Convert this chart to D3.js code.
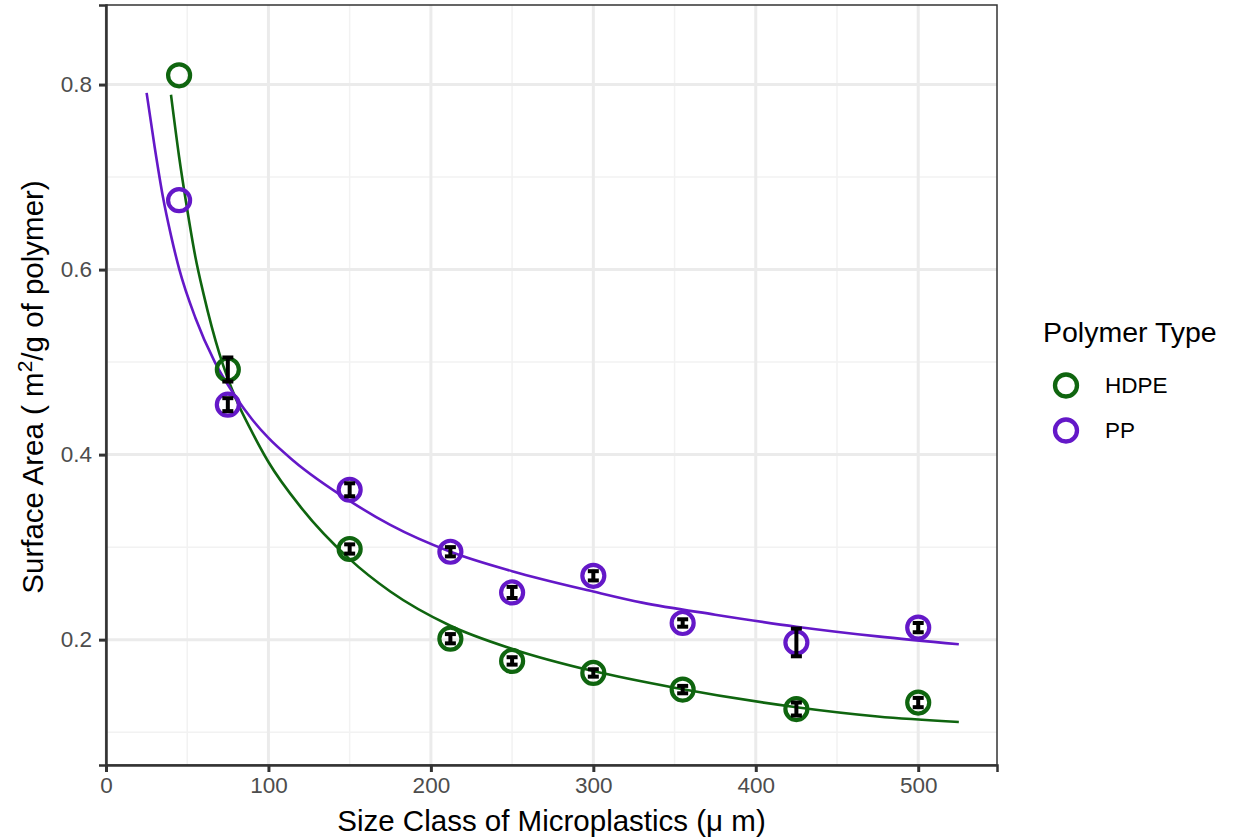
<!DOCTYPE html>
<html>
<head>
<meta charset="utf-8">
<script src="https://cdn.jsdelivr.net/npm/d3@7"></script>
<style>
  body { margin: 0; background: #fff; }
  text { font-family: "Liberation Sans", Arial, sans-serif; }
</style>
</head>
<body>
<svg width="1238" height="840"></svg>
<script>
// measured sizes (µm) and surface areas
const sizes = [45, 75, 150, 212, 250, 300, 355, 425, 500];
const hdpeArea = [0.810, 0.492, 0.298, 0.201, 0.177, 0.164, 0.146, 0.125, 0.132];
const hdpeErr = [0, 0.013, 0.005, 0.005, 0.004, 0.004, 0.004, 0.007, 0.005];
const ppArea = [0.675, 0.454, 0.362, 0.295, 0.251, 0.269, 0.218, 0.197, 0.213];
const ppErr = [0, 0.007, 0.007, 0.005, 0.006, 0.005, 0.004, 0.015, 0.005];

// fitted curves
const hdpeFitX = [40, 45, 50, 55, 60, 70, 80, 90, 100, 120, 150, 175, 212, 250, 300, 350, 425, 475, 525];
const hdpeFitY = [0.789, 0.722, 0.665, 0.614, 0.574, 0.508, 0.46, 0.424, 0.392, 0.343, 0.287, 0.252, 0.215, 0.19, 0.166, 0.148, 0.127, 0.117, 0.111];
const ppFitX = [25, 30, 35, 40, 45, 55, 67, 80, 90, 100, 115, 150, 175, 212, 250, 300, 330, 375, 425, 475, 525];
const ppFitY = [0.791, 0.732, 0.679, 0.637, 0.601, 0.548, 0.5, 0.462, 0.438, 0.418, 0.394, 0.35, 0.324, 0.295, 0.274, 0.252, 0.24, 0.227, 0.214, 0.2035, 0.195];

const xTicks = [0, 100, 200, 300, 400, 500];
const xMinor = [50, 150, 250, 350, 450];
const yTicks = [0.2, 0.4, 0.6, 0.8];
const yMinor = [0.1, 0.3, 0.5, 0.7];

const polymers = ["HDPE", "PP"];
const colors = ["#0f650f", "#6418c8"];

const svg = d3.select("svg");
const panel = { left: 106, right: 997, top: 5, bottom: 765 };

const x = d3.scaleLinear().domain([0, 548.5]).range([panel.left, panel.right]);
const y = d3.scaleLinear().domain([0.0645, 0.886]).range([panel.bottom, panel.top]);
const color = d3.scaleOrdinal().domain(polymers).range(colors);

// grid
const grid = svg.append("g");
grid.selectAll(".xminor").data(xMinor).join("line")
    .attr("class", "xminor")
    .attr("x1", d => x(d)).attr("x2", d => x(d))
    .attr("y1", panel.top).attr("y2", panel.bottom)
    .attr("stroke", "#f2f2f2").attr("stroke-width", 1.5);
grid.selectAll(".yminor").data(yMinor).join("line")
    .attr("class", "yminor")
    .attr("x1", panel.left).attr("x2", panel.right)
    .attr("y1", d => y(d)).attr("y2", d => y(d))
    .attr("stroke", "#f2f2f2").attr("stroke-width", 1.5);
grid.selectAll(".xmajor").data(xTicks).join("line")
    .attr("class", "xmajor")
    .attr("x1", d => x(d)).attr("x2", d => x(d))
    .attr("y1", panel.top).attr("y2", panel.bottom)
    .attr("stroke", "#ebebeb").attr("stroke-width", 3);
grid.selectAll(".ymajor").data(yTicks).join("line")
    .attr("class", "ymajor")
    .attr("x1", panel.left).attr("x2", panel.right)
    .attr("y1", d => y(d)).attr("y2", d => y(d))
    .attr("stroke", "#ebebeb").attr("stroke-width", 3);

// fitted curves
const line = d3.line().x(d => x(d[0])).y(d => y(d[1])).curve(d3.curveMonotoneX);
const fits = [
    { name: "HDPE", pts: d3.zip(hdpeFitX, hdpeFitY) },
    { name: "PP", pts: d3.zip(ppFitX, ppFitY) }
];
svg.selectAll(".fit").data(fits).join("path")
    .attr("class", "fit")
    .attr("d", d => line(d.pts))
    .attr("fill", "none")
    .attr("stroke", d => color(d.name))
    .attr("stroke-width", 2.6);

// points
const series = [
    { name: "HDPE", vals: sizes.map((s, i) => ({ s, v: hdpeArea[i], e: hdpeErr[i] })) },
    { name: "PP", vals: sizes.map((s, i) => ({ s, v: ppArea[i], e: ppErr[i] })) }
];
series.forEach(sr => {
    svg.append("g").selectAll("circle").data(sr.vals).join("circle")
        .attr("cx", d => x(d.s)).attr("cy", d => y(d.v))
        .attr("r", 11)
        .attr("fill", "none")
        .attr("stroke", color(sr.name))
        .attr("stroke-width", 4.2);
});
series.forEach(sr => {
    const eb = svg.append("g").attr("stroke", "#000").attr("stroke-width", 4);
    const vis = sr.vals.filter(d => d.e > 0);
    eb.selectAll(".v").data(vis).join("line")
        .attr("class", "v")
        .attr("x1", d => x(d.s)).attr("x2", d => x(d.s))
        .attr("y1", d => y(d.v - d.e)).attr("y2", d => y(d.v + d.e));
    ["lo", "hi"].forEach(k => {
        eb.selectAll("." + k).data(vis).join("line")
            .attr("class", k)
            .attr("x1", d => x(d.s) - 5.5).attr("x2", d => x(d.s) + 5.5)
            .attr("y1", d => y(k === "lo" ? d.v - d.e : d.v + d.e))
            .attr("y2", d => y(k === "lo" ? d.v - d.e : d.v + d.e));
    });
});

// panel border
svg.append("rect")
    .attr("x", panel.left).attr("y", panel.top)
    .attr("width", panel.right - panel.left).attr("height", panel.bottom - panel.top)
    .attr("fill", "none").attr("stroke", "#333").attr("stroke-width", 1.5);

// axes
const xAxis = svg.append("g").attr("transform", `translate(0,${panel.bottom})`)
    .call(d3.axisBottom(x).tickValues(xTicks).tickSize(7).tickPadding(5).tickFormat(d3.format("d")));
const yAxis = svg.append("g").attr("transform", `translate(${panel.left},0)`)
    .call(d3.axisLeft(y).tickValues(yTicks).tickSize(7).tickPadding(7).tickFormat(d3.format(".1f")));
[xAxis, yAxis].forEach(a => {
    a.attr("font-size", null).attr("font-family", null);
    a.select(".domain").attr("stroke", "#333").attr("stroke-width", 2.5);
    a.selectAll(".tick line").attr("stroke", "#333").attr("stroke-width", 3);
    a.selectAll(".tick text").attr("fill", "#4d4d4d").style("font-size", "22.5px");
});

// axis titles
svg.append("text")
    .attr("x", (panel.left + panel.right) / 2).attr("y", 831)
    .attr("text-anchor", "middle")
    .style("font-size", "29.5px")
    .text("Size Class of Microplastics (\u03bc m)");

const yt = svg.append("text")
    .attr("transform", "translate(43,387) rotate(-90)")
    .attr("text-anchor", "middle")
    .style("font-size", "29.5px");
yt.append("tspan").text("Surface Area ( m");
yt.append("tspan").attr("dy", -11).style("font-size", "21px").text("2");
yt.append("tspan").attr("dy", 11).text("/g of polymer)");

// legend
const legend = svg.append("g");
legend.append("text")
    .attr("x", 1043).attr("y", 342)
    .style("font-size", "28.5px")
    .text("Polymer Type");
const items = legend.selectAll(".item").data(polymers).join("g")
    .attr("class", "item")
    .attr("transform", (d, i) => `translate(1066,${385.5 + i * 45})`);
items.append("circle")
    .attr("r", 11)
    .attr("fill", "none")
    .attr("stroke", d => color(d))
    .attr("stroke-width", 4.3);
items.append("text")
    .attr("x", 39).attr("y", 7.5)
    .style("font-size", "22.5px")
    .text(d => d);
</script>
</body>
</html>
